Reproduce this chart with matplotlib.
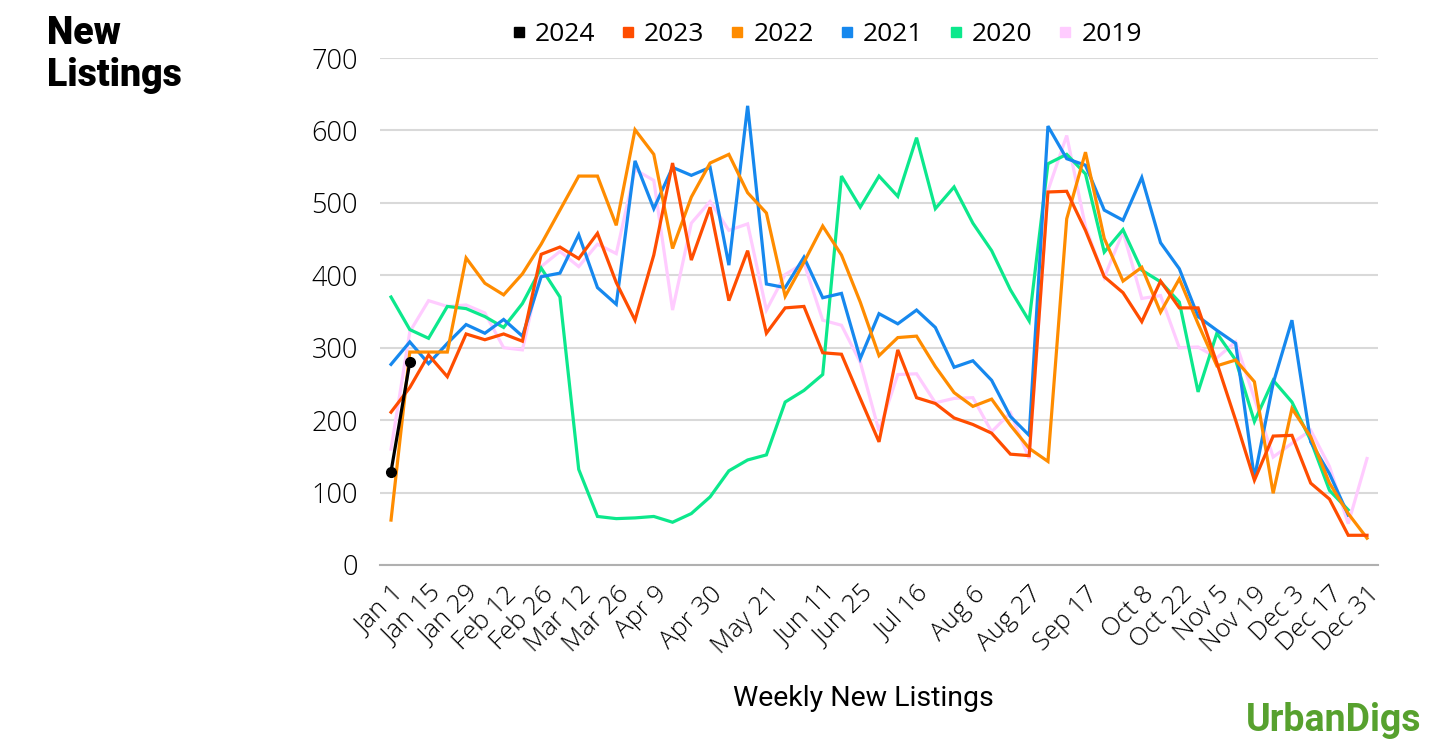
import numpy as np
import matplotlib.pyplot as plt
from matplotlib.lines import Line2D

# weekly new listings, index 0 = Jan 1 ... 52 = Dec 31
nan = np.nan
y2024 = [129, 280]
y2023 = [211, 245, 290, 260, 319, 311, 319, 309, 429, 439, 423, 458, 390, 338, 428, 555,
         421, 494, 365, 434, 320, 355, 357, 293, 291, 230, 170, 297, 231, 223, 203, 194,
         182, 153, 151, 515, 516, 462, 398, 376, 336, 392, 355, 355, 279, 200, 117, 178,
         179, 113, 91, 41, 41]
y2022 = [62, 294, 294, 294, 424, 389, 373, 402, 443, 490, 537, 537, 469, 601, 567, 437,
         508, 555, 567, 514, 486, 371, 418, 468, 428, 363, 289, 314, 316, 274, 238, 219,
         229, 193, 161, 143, 478, 570, 451, 392, 411, 349, 395, 333, 275, 283, 253, 99,
         216, 177, 113, 71, 37]
y2021 = [277, 308, 278, 306, 332, 320, 339, 316, 398, 403, 456, 383, 360, 558, 492, 549,
         538, 549, 414, 634, 388, 383, 425, 369, 375, 285, 347, 333, 352, 328, 273, 282,
         255, 205, 179, 606, 561, 552, 490, 476, 535, 445, 409, 343, 324, 306, 120, 251,
         338, 170, 126, 69, nan]
y2020 = [370, 325, 313, 357, 354, 343, 328, 361, 410, 370, 132, 67, 64, 65, 67, 59,
         71, 94, 130, 145, 152, 225, 241, 263, 537, 494, 537, 509, 590, 492, 522, 472,
         434, 380, 337, 554, 567, 540, 432, 463, 407, 391, 363, 239, 320, 283, 198, 255,
         225, 172, 103, 76, nan]
y2019 = [160, 322, 365, 357, 359, 348, 300, 297, 412, 433, 412, 443, 430, 546, 531, 352,
         472, 502, 462, 471, 352, 401, 417, 338, 331, 280, 185, 263, 264, 224, 230, 231,
         184, 210, 147, 517, 593, 467, 397, 460, 368, 372, 300, 301, 286, 308, 230, 149,
         168, 186, 136, 57, 147]

tick_idx = [0, 2, 4, 6, 8, 10, 12, 14, 17, 20, 23, 25, 28, 31, 34, 37, 40, 42, 44, 46, 48, 50, 52]
tick_labels = ["Jan 1", "Jan 15", "Jan 29", "Feb 12", "Feb 26", "Mar 12", "Mar 26", "Apr 9",
               "Apr 30", "May 21", "Jun 11", "Jun 25", "Jul 16", "Aug 6", "Aug 27", "Sep 17",
               "Oct 8", "Oct 22", "Nov 5", "Nov 19", "Dec 3", "Dec 17", "Dec 31"]

series = [("2019", y2019, "#FFCCFF"),
          ("2020", y2020, "#0CE88C"),
          ("2021", y2021, "#1688EE"),
          ("2022", y2022, "#FF8C00"),
          ("2023", y2023, "#FF4D00")]

plt.rcParams['font.family'] = ['Open Sans', 'DejaVu Sans']

fig = plt.figure(figsize=(14.3, 7.43), dpi=100)
ax = fig.add_axes([0.2657, 0.2396, 0.698, 0.6823])

for name, vals, col in series:
    ax.plot(np.arange(len(vals)), vals, color=col, lw=2.3, solid_joinstyle='miter')
ax.plot(np.arange(len(y2024)), y2024, color='black', lw=2.3, marker='o', ms=7)

ax.set_ylim(0, 700)
ax.set_xlim(-0.59, 52.59)
ax.set_yticks(range(0, 701, 100))
ax.yaxis.grid(True, color='#d9d9d9', lw=1.5)
ax.set_axisbelow(True)
for s in ['top', 'right', 'left']:
    ax.spines[s].set_visible(False)
ax.spines['bottom'].set_color('#b0b0b0')
ax.spines['bottom'].set_linewidth(1.5)
ax.tick_params(length=0)
ax.tick_params(axis='y', labelsize=19.5, pad=16)
ax.set_xticks(tick_idx)
ax.set_xticklabels(tick_labels, rotation=45, ha='right', rotation_mode='anchor', fontsize=18.5)
ax.tick_params(axis='x', pad=12)
for t in ax.get_yticklabels() + ax.get_xticklabels():
    t.set_fontweight('light')

fig.text(0.6035, 0.06, "Weekly New Listings", fontsize=20.5, family='Roboto',
         ha='center', va='center')

# legend
order = [("2024", "black")] + [(n, c) for n, v, c in series[::-1]]
handles = [Line2D([], [], ls='none', marker='s', ms=7, color=c) for n, c in order]
fig.legend(handles, [n for n, c in order], loc='center', bbox_to_anchor=(0.577, 0.953),
           ncol=6, frameon=False, fontsize=19, handletextpad=0.2, columnspacing=0.85,
           handlelength=0.8)

fig.text(0.033, 0.873, "New\nListings", fontsize=27, fontweight='black', family='Roboto',
         linespacing=1.2, va='bottom')
fig.text(0.994, 0.006, "UrbanDigs", fontsize=27, fontweight='bold', family='Roboto',
         color='#57A12E', ha='right', va='bottom')

fig.savefig("out.png", dpi=100)
